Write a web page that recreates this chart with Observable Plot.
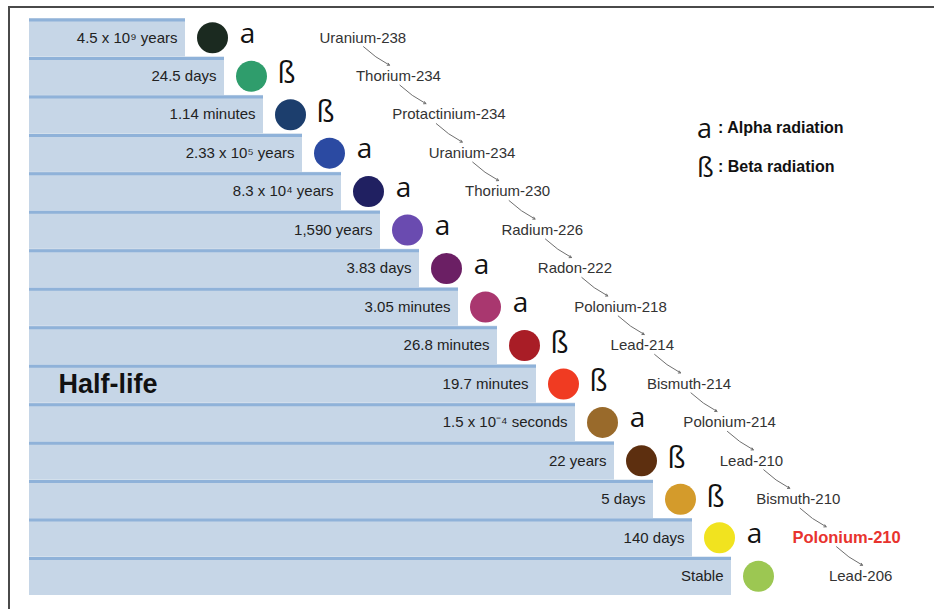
<!DOCTYPE html>
<html>
<head>
<meta charset="utf-8">
<script src="https://cdn.jsdelivr.net/npm/d3@7"></script>
<script src="https://cdn.jsdelivr.net/npm/@observablehq/plot@0.6"></script>
<style>
  html, body { margin: 0; padding: 0; background: #fff; }
  #wrap { position: relative; width: 934px; height: 609px; overflow: hidden; font-family: "Liberation Sans", Arial, sans-serif; }
  #frame { position: absolute; left: 8px; top: 6px; width: 940px; height: 620px; border-left: 2px solid #4a4a4a; border-top: 2px solid #4a4a4a; pointer-events: none; }
  #legend { position: absolute; left: 697px; top: 108px; color: #111; }
  #legend .row { height: 39px; display: flex; align-items: center; white-space: nowrap; }
  #legend .sym { font-family: "Open Sans", "Noto Sans", sans-serif; font-size: 27px; width: 21px; display: inline-block; line-height: 1; }
  #legend .lab { font-weight: bold; font-size: 16px; }
</style>
</head>
<body>
<div id="wrap">
  <div id="chart"></div>
  <div id="legend"></div>
  <div id="frame"></div>
</div>
<script>
// ---- data ----
const elements = ["Uranium-238","Thorium-234","Protactinium-234","Uranium-234","Thorium-230","Radium-226","Radon-222","Polonium-218","Lead-214","Bismuth-214","Polonium-214","Lead-210","Bismuth-210","Polonium-210","Lead-206"];
const halfLives = ["4.5 x 10⁹ years","24.5 days","1.14 minutes","2.33 x 10⁵ years","8.3 x 10⁴ years","1,590 years","3.83 days","3.05 minutes","26.8 minutes","19.7 minutes","1.5 x 10⁻⁴ seconds","22 years","5 days","140 days","Stable"];
const radiation = ["a","ß","ß","a","a","a","a","a","ß","ß","a","ß","ß","a",""];
const colors = ["#1b2a20","#2f9d6c","#1c3e6d","#2b4aa2","#202061","#6a4bb0","#6b1f64","#a9376f","#a91d26","#f03b22","#996a2b","#5d2f0f","#d49b2b","#f1e31f","#9cc752"];
const highlight = "Polonium-210";
const legendSymbols = ["a","ß"];
const legendLabels = [": Alpha radiation",": Beta radiation"];
const mainLabel = "Half-life";

const data = elements.map((e, i) => ({i, element: e, half: halfLives[i], rad: radiation[i], color: colors[i]}));

// ---- layout (scale units: one step per decay row) ----
const W = 934, H = 609;
const stepPx = 39, firstEndPx = 185;
const rowTop = 18, rowBottom = 595, nRows = elements.length;
const rowPx = (rowBottom - rowTop) / nRows;
const xDomain = [-firstEndPx / stepPx, (W - firstEndPx) / stepPx];
const barStart = -4;
const labelLeft = i => 3.436 + 0.933 * i;
const px = v => v / stepPx, py = v => v / rowPx;

const sans = "Liberation Sans, Arial, sans-serif";
const symFont = "Open Sans, Noto Sans, sans-serif";

const chart = Plot.plot({
  width: W, height: H,
  marginTop: 0, marginRight: 0, marginBottom: 0, marginLeft: 0,
  x: {domain: xDomain, range: [0, W], axis: null},
  y: {domain: [0, nRows], range: [rowTop, rowBottom], axis: null},
  style: {fontFamily: sans, background: "white"},
  marks: [
    Plot.rect(data, {x1: barStart, x2: d => d.i, y1: d => d.i, y2: d => d.i + 1, fill: "#c6d6e7"}),
    Plot.ruleY(data, {x1: barStart, x2: d => d.i, y: d => d.i, dy: 1.5, stroke: "#8fb2d9", strokeWidth: 3}),
    Plot.text(data, {x: d => d.i - px(8), y: d => d.i + 0.5, text: "half", textAnchor: "end", fontSize: 15, fill: "#222"}),
    Plot.text([mainLabel], {x: barStart + px(29), y: 9.5, text: d => d, textAnchor: "start", fontSize: 27, fontWeight: "bold", fill: "#111"}),
    Plot.dot(data, {x: d => d.i + px(27), y: d => d.i + 0.5, r: 15.5, fill: "color", stroke: "none"}),
    Plot.text(data.filter(d => d.rad === "a"), {x: d => d.i + px(62), y: d => d.i + 0.5, dy: -4, text: "rad", fontSize: 28, fontFamily: symFont, fill: "#111"}),
    Plot.text(data.filter(d => d.rad === "ß"), {x: d => d.i + px(62), y: d => d.i + 0.5, dy: -2, text: "rad", fontSize: 29, fontFamily: symFont, fill: "#111"}),
    Plot.arrow(data.slice(0, -1), {
      x1: d => labelLeft(d.i) + px(44), y1: d => d.i + 0.5 + py(9),
      x2: d => labelLeft(d.i) + px(70), y2: d => d.i + 1.5 - py(11),
      bend: -8, stroke: "#6f6f6f", strokeWidth: 1, headLength: 3.5
    }),
    Plot.text(data.filter(d => d.element !== highlight), {x: d => labelLeft(d.i), y: d => d.i + 0.5, text: "element", textAnchor: "start", fontSize: 15, fill: "#333"}),
    Plot.text(data.filter(d => d.element === highlight), {x: d => labelLeft(d.i), y: d => d.i + 0.5, text: "element", textAnchor: "start", fontSize: 16.5, fontWeight: "bold", fill: "#e8332e"})
  ]
});
document.getElementById("chart").appendChild(chart);

const leg = document.getElementById("legend");
legendSymbols.forEach((s, k) => {
  const row = document.createElement("div");
  row.className = "row";
  row.innerHTML = `<span class="sym">${s}</span><span class="lab">${legendLabels[k]}</span>`;
  leg.appendChild(row);
});
</script>
</body>
</html>
